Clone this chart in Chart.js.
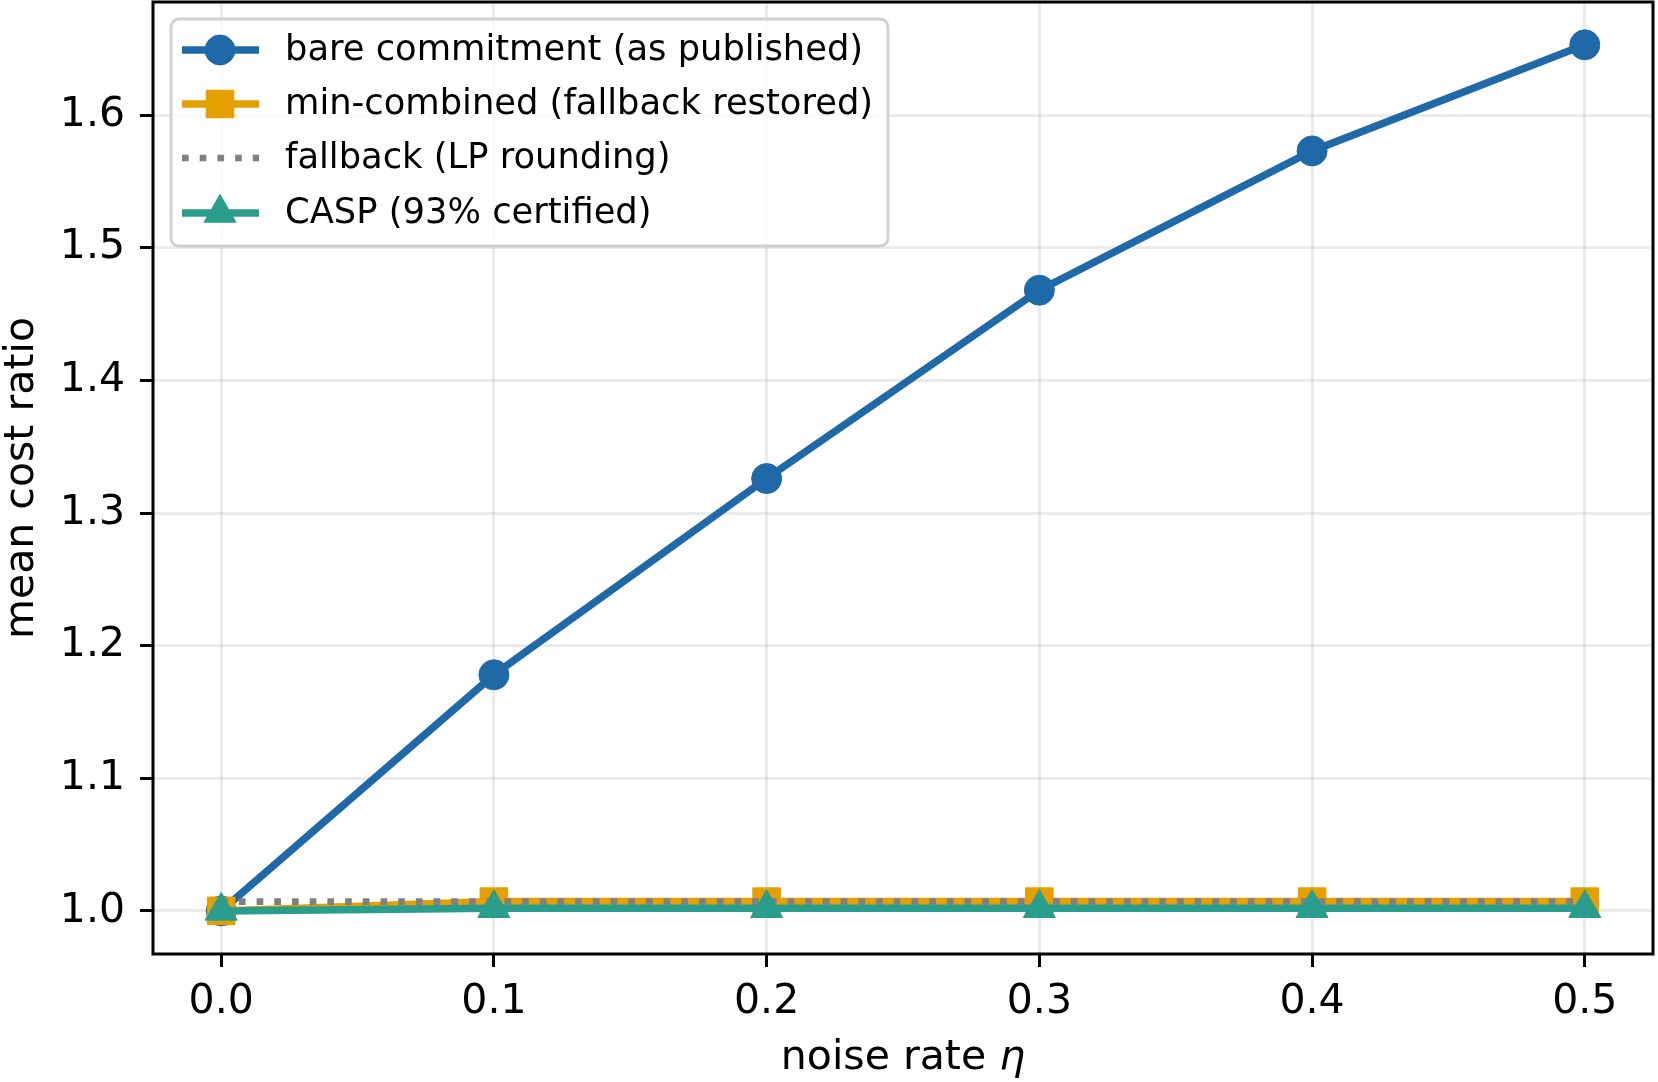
<!DOCTYPE html>
<html>
<head>
<meta charset="utf-8">
<script src="https://cdn.jsdelivr.net/npm/chart.js"></script>
<style>
  html, body { margin: 0; padding: 0; background: #fff; }
  canvas { display: block; }
</style>
</head>
<body>
<canvas id="cost-ratio" width="1658" height="1082"></canvas>
<script>
// mean cost ratio vs noise rate
const noiseRates = [0.0, 0.1, 0.2, 0.3, 0.4, 0.5];
const bareCommitment = [1.000, 1.178, 1.326, 1.468, 1.573, 1.653];
const minCombined = [1.000, 1.007, 1.007, 1.007, 1.007, 1.007];
const fallbackLP = [1.007, 1.007, 1.007, 1.007, 1.007, 1.007];
const caspCertified = [1.000, 1.002, 1.002, 1.002, 1.002, 1.002];

const xTicks = [0.0, 0.1, 0.2, 0.3, 0.4, 0.5];
const yTicks = [1.0, 1.1, 1.2, 1.3, 1.4, 1.5, 1.6];

const FONT = "'DejaVu Sans', 'Liberation Sans', sans-serif";
const BLUE = "#1f69a9";
const ORANGE = "#e69f00";
const GRAY = "#808080";
const TEAL = "#2a9d8c";

function pts(ys) {
    return noiseRates.map((x, i) => ({x: x, y: ys[i]}));
}

function noPad(axis) {
    axis.paddingTop = 0;
    axis.paddingBottom = 0;
    axis.paddingLeft = 0;
    axis.paddingRight = 0;
}

// frame around plot, x label with italic eta, matplotlib style legend
const framePlugin = {
    id: "frameAndLegend",
    afterDraw(chart) {
        const ctx = chart.ctx;
        const a = chart.chartArea;
        ctx.save();
        ctx.strokeStyle = "#000";
        ctx.lineWidth = 3;
        ctx.strokeRect(a.left, a.top, a.right - a.left, a.bottom - a.top);

        // x axis label
        ctx.fillStyle = "#000";
        ctx.textBaseline = "alphabetic";
        ctx.textAlign = "left";
        const part1 = "noise rate ";
        const part2 = "η";
        ctx.font = "41px " + FONT;
        const w1 = ctx.measureText(part1).width;
        ctx.font = "italic 41px " + FONT;
        const w2 = ctx.measureText(part2).width;
        const x0 = (a.left + a.right) / 2 - (w1 + w2) / 2;
        ctx.font = "41px " + FONT;
        ctx.fillText(part1, x0, 1069);
        ctx.font = "italic 41px " + FONT;
        ctx.fillText(part2, x0 + w1, 1069);

        // legend box
        const bx = 171, by = 19, bw = 717, bh = 227, r = 8;
        ctx.beginPath();
        ctx.moveTo(bx + r, by);
        ctx.arcTo(bx + bw, by, bx + bw, by + bh, r);
        ctx.arcTo(bx + bw, by + bh, bx, by + bh, r);
        ctx.arcTo(bx, by + bh, bx, by, r);
        ctx.arcTo(bx, by, bx + bw, by, r);
        ctx.closePath();
        ctx.fillStyle = "rgba(255,255,255,0.8)";
        ctx.fill();
        ctx.strokeStyle = "#d0d0d0";
        ctx.lineWidth = 2.8;
        ctx.stroke();

        const rowY = [50, 104, 158, 213];
        chart.data.datasets.forEach((ds, i) => {
            const y = rowY[i];
            ctx.save();
            ctx.strokeStyle = ds.borderColor;
            ctx.lineWidth = ds.borderWidth;
            ctx.setLineDash(ds.borderDash || []);
            ctx.beginPath();
            ctx.moveTo(182, y);
            ctx.lineTo(259, y);
            ctx.stroke();
            ctx.restore();
            if (ds.pointRadius > 0) {
                ctx.fillStyle = ds.pointBackgroundColor;
                ctx.strokeStyle = ds.pointBorderColor;
                ctx.lineWidth = ds.pointBorderWidth;
                Chart.helpers.drawPoint(ctx, {
                    pointStyle: ds.pointStyle,
                    radius: ds.pointRadius,
                    rotation: 0,
                    borderWidth: ds.pointBorderWidth
                }, 220, y);
            }
            ctx.fillStyle = "#000";
            ctx.font = "35.3px " + FONT;
            ctx.textBaseline = "middle";
            ctx.textAlign = "left";
            ctx.fillText(ds.label, 285, y + 1);
        });
        ctx.restore();
    }
};

new Chart("cost-ratio", {
    type: "line",
    data: {
        datasets: [
            {
                label: "bare commitment (as published)",
                data: pts(bareCommitment),
                borderColor: BLUE,
                borderWidth: 7.5,
                pointStyle: "circle",
                pointRadius: 15,
                pointBackgroundColor: BLUE,
                pointBorderColor: BLUE,
                pointBorderWidth: 1,
                order: 4
            },
            {
                label: "min-combined (fallback restored)",
                data: pts(minCombined),
                borderColor: ORANGE,
                borderWidth: 7.5,
                pointStyle: "rect",
                pointRadius: 19.5,
                pointBackgroundColor: ORANGE,
                pointBorderColor: ORANGE,
                pointBorderWidth: 1,
                order: 3
            },
            {
                label: "fallback (LP rounding)",
                data: pts(fallbackLP),
                borderColor: GRAY,
                borderWidth: 6.7,
                borderDash: [6.7, 11],
                pointRadius: 0,
                order: 2
            },
            {
                label: "CASP (93% certified)",
                data: pts(caspCertified),
                borderColor: TEAL,
                borderWidth: 7.5,
                pointStyle: "triangle",
                pointRadius: 18.5,
                pointBackgroundColor: TEAL,
                pointBorderColor: TEAL,
                pointBorderWidth: 1,
                order: 1
            }
        ]
    },
    options: {
        responsive: false,
        animation: false,
        devicePixelRatio: 1,
        layout: { autoPadding: false, padding: { top: 2, right: 5, left: 0, bottom: 0 } },
        plugins: {
            legend: { display: false },
            tooltip: { enabled: false }
        },
        elements: { line: { tension: 0, fill: false } },
        scales: {
            x: {
                type: "linear",
                min: -0.025,
                max: 0.525,
                afterBuildTicks: (axis) => { axis.ticks = xTicks.map(v => ({value: v})); },
                afterFit: (axis) => { axis.height = 128; noPad(axis); },
                ticks: {
                    color: "#000",
                    font: { family: FONT, size: 41 },
                    padding: 11,
                    maxRotation: 0,
                    callback: (v) => v.toFixed(1)
                },
                grid: {
                    color: "rgba(0,0,0,0.08)",
                    lineWidth: 3,
                    tickColor: "#000",
                    tickLength: 13,
                    tickWidth: 3
                },
                border: { display: false },
                title: { display: false }
            },
            y: {
                type: "linear",
                min: 0.9675,
                max: 1.6853,
                afterBuildTicks: (axis) => { axis.ticks = yTicks.map(v => ({value: v})); },
                afterFit: (axis) => { axis.width = 153; noPad(axis); },
                ticks: {
                    color: "#000",
                    font: { family: FONT, size: 41 },
                    padding: 15,
                    callback: (v) => v.toFixed(1)
                },
                grid: {
                    color: "rgba(0,0,0,0.08)",
                    lineWidth: 3,
                    tickColor: "#000",
                    tickLength: 13,
                    tickWidth: 3
                },
                border: { display: false },
                title: {
                    display: true,
                    text: "mean cost ratio",
                    color: "#000",
                    font: { family: FONT, size: 41, lineHeight: 1.1 },
                    padding: { top: 0, bottom: 0 }
                }
            }
        }
    },
    plugins: [framePlugin]
});
</script>
</body>
</html>
